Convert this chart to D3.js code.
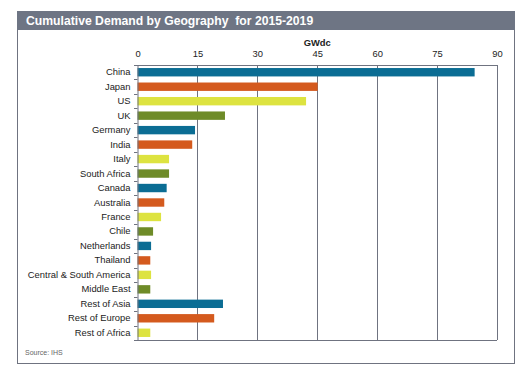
<!DOCTYPE html>
<html><head><meta charset="utf-8">
<script src="https://cdn.jsdelivr.net/npm/d3@7"></script>
<style>body{margin:0;background:#fff;font-family:"Liberation Sans",Arial,sans-serif;}</style>
</head><body><svg id="c" width="522" height="369"></svg>
<script>
const categories = ["China","Japan","US","UK","Germany","India","Italy","South Africa","Canada","Australia","France","Chile","Netherlands","Thailand","Central & South America","Middle East","Rest of Asia","Rest of Europe","Rest of Africa"];
const values = [84.4,45.1,42.2,21.9,14.4,13.7,7.9,7.9,7.3,6.7,5.9,3.9,3.4,3.2,3.4,3.2,21.4,19.2,3.2];
const tickValues = [0,15,30,45,60,75,90];
const palette = ["#0b6d94","#d45a1e","#dde340","#6e8b28"];
const title = "Cumulative Demand by Geography  for 2015-2019";
const unitLabel = "GWdc";
const source = "Source: IHS";

const svg = d3.select("#c");
const gridC = "#6f7380";
// outer frame
svg.append("rect").attr("x",17.5).attr("y",11.5).attr("width",497).attr("height",352).attr("fill","#fff").attr("stroke",gridC).attr("stroke-width",1);
svg.append("rect").attr("x",17).attr("y",11).attr("width",498).attr("height",19).attr("fill","#6e7584");
svg.append("text").attr("x",26).attr("y",25).attr("fill","#fff").attr("font-weight","bold").attr("font-size",12.2)
  .style("white-space","pre").text(title);

const x = d3.scaleLinear().domain([0,90]).range([137.5,497]);
const y = d3.scaleBand().domain(categories).range([65,340]).paddingInner(0.42).paddingOuter(0.21);
const band = d3.scaleBand().domain(categories).range([65,340]);

// gridlines
svg.append("g").selectAll("line").data(tickValues.slice(1)).join("line")
  .attr("x1",d=>Math.round(x(d))+0.5).attr("x2",d=>Math.round(x(d))+0.5).attr("y1",65).attr("y2",340)
  .attr("stroke",gridC).attr("stroke-width",1);
svg.append("line").attr("x1",137).attr("x2",497).attr("y1",65.5).attr("y2",65.5).attr("stroke",gridC);
svg.append("line").attr("x1",137).attr("x2",497).attr("y1",340.5).attr("y2",340.5).attr("stroke",gridC);

// bars
svg.append("g").selectAll("rect").data(categories).join("rect")
  .attr("x",x(0)).attr("y",d=>y(d)).attr("width",(d,i)=>x(values[i])-x(0)).attr("height",y.bandwidth())
  .attr("fill",(d,i)=>palette[i%4]);

// y axis
const yAxis = d3.axisLeft(band).tickSize(0).tickPadding(7);
const gy = svg.append("g").attr("transform","translate(137.5,0)").call(yAxis);
gy.select(".domain").attr("stroke",gridC);
gy.selectAll("text").attr("font-size",9.4).attr("fill","#222").attr("font-family","Liberation Sans, Arial, sans-serif");
// category boundary ticks
svg.append("g").selectAll("line").data(categories.concat(["end"])).join("line")
  .attr("x1",134).attr("x2",137.5).attr("y1",(d,i)=>Math.round(65+i*band.bandwidth())+0.5).attr("y2",(d,i)=>Math.round(65+i*band.bandwidth())+0.5)
  .attr("stroke",gridC);

// top axis labels
const xAxis = d3.axisTop(x).tickValues(tickValues).tickSize(0).tickPadding(8);
const gx = svg.append("g").attr("transform","translate(0,65)").call(xAxis);
gx.select(".domain").remove();
gx.selectAll("text").attr("font-size",9.4).attr("fill","#222").attr("font-family","Liberation Sans, Arial, sans-serif");
svg.append("text").attr("x",x(45)).attr("y",46).attr("text-anchor","middle").attr("font-size",9.4).attr("font-weight","bold").attr("fill","#222").text(unitLabel);

svg.append("text").attr("x",25).attr("y",355).attr("font-size",7).attr("fill","#666").text(source);
</script></body></html>
